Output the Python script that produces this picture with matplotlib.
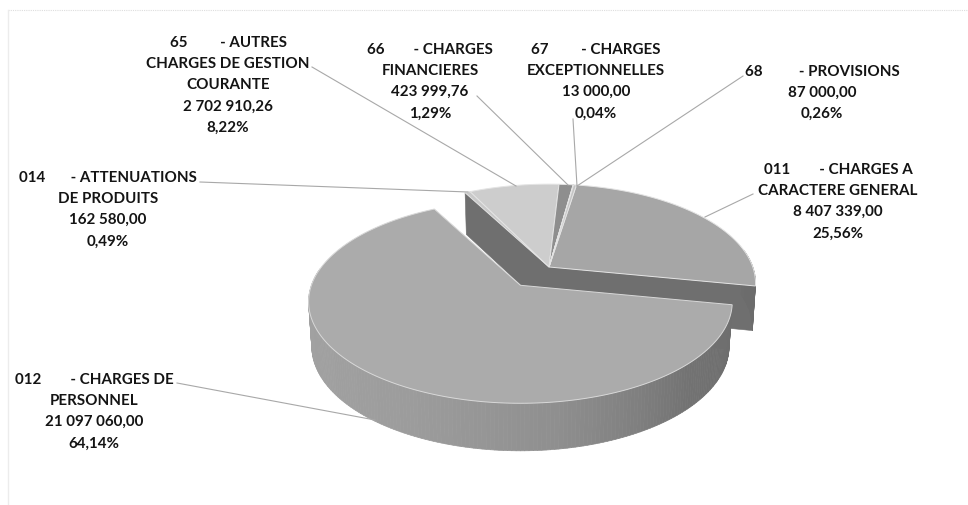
import numpy as np
import matplotlib
matplotlib.use("Agg")
import matplotlib.pyplot as plt
from matplotlib.patches import Polygon
from matplotlib.collections import PolyCollection

# --- data
codes = ["011", "012", "014", "65", "66", "67", "68"]
amounts = [8407339.00, 21097060.00, 162580.00, 2702910.26, 423999.76, 13000.00, 87000.00]
label_lines = [
    ["011        - CHARGES A", "CARACTERE GENERAL", "8 407 339,00", "25,56%"],
    ["012        - CHARGES DE", "PERSONNEL", "21 097 060,00", "64,14%"],
    ["014       - ATTENUATIONS", "DE PRODUITS", "162 580,00", "0,49%"],
    ["65         - AUTRES", "CHARGES DE GESTION", "COURANTE", "2 702 910,26", "8,22%"],
    ["66        - CHARGES", "FINANCIERES", "423 999,76", "1,29%"],
    ["67         - CHARGES", "EXCEPTIONNELLES", "13 000,00", "0,04%"],
    ["68          - PROVISIONS", "87 000,00", "0,26%"],
]

# --- styles and layout
top_colors = ["#a6a6a6", "#ababab", "#c9c9c9", "#cdcdcd", "#8e8e8e", "#b5b5b5", "#c4c4c4"]
explode = [0, 0.23, 0, 0, 0, 0, 0]
disk_scale = [0.975, 1, 0.975, 0.975, 0.975, 0.975, 0.975]
start_deg = 9.0
CX, CY, R, S, K = 549, 268, 209, 98.8, 0.1627
DEPTH, RB, SB = 44, 0.985, 1.03
label_pos = {"011": (838, 170), "012": (94, 380), "014": (108, 178), "65": (228, 43),
             "66": (430, 50), "67": (596, 50), "68": (822, 72)}
leaders = {"011": ((753, 195), (705, 218)), "012": ((177, 384), (375, 421)),
           "014": ((200, 183), (468, 193)), "65": ((312, 68), (516, 187)),
           "66": ((477, 97), (568, 186)), "67": ((573, 120), (577, 187)),
           "68": ((743, 77), (577, 187))}

plt.rcParams["font.family"] = ["Lato", "DejaVu Sans"]
fig = plt.figure(figsize=(9.68, 5.06), dpi=100, facecolor="white")
ax = fig.add_axes([0, 0, 1, 1])
ax.set_xlim(0, 968)
ax.set_ylim(506, 0)
ax.axis("off")


def project(theta, scale, cx, cy, bottom=False):
    """Disk point (clockwise degrees from far side) -> picture."""
    t = np.radians(theta)
    u, v = np.sin(t), np.cos(t)
    den = 1 + K * v
    r, s, d = (R * RB, S * SB, DEPTH) if bottom else (R, S, 0)
    return cx + scale * r * u / den, cy + d - scale * s * v / den


def arc(a0, a1, scale, cx, cy):
    th = np.linspace(a0, a1, max(2, int(abs(a1 - a0) * 2) + 2))
    x, y = project(th, scale, cx, cy)
    return np.column_stack([x, y])


def wall_grey(x):
    return np.interp(x, [310, 420, 560, 640, 690, 760],
                     [0.63, 0.61, 0.56, 0.50, 0.45, 0.42])


fracs = np.array(amounts) / np.sum(amounts)
edges = start_deg + 360 * np.concatenate([[0], np.cumsum(fracs)])
slices = []
for i in range(len(amounts)):
    a0, a1 = edges[i], edges[i + 1]
    mid = np.radians((a0 + a1) / 2)
    cx = CX + explode[i] * R * np.sin(mid)
    cy = CY - explode[i] * S * np.cos(mid)
    slices.append((i, a0, a1, disk_scale[i], cx, cy))


def cut_face(theta, scale, cx, cy, z):
    p0 = project(theta, scale, cx, cy)
    p1 = project(theta, scale, cx, cy, True)
    poly = [(cx, cy), p0, p1, (cx, cy + DEPTH)]
    ax.add_patch(Polygon(poly, closed=True, fc="#6f6f6f", ec="#6f6f6f", lw=0.4, zorder=z))


def outer_wall(a0, a1, scale, cx, cy, z):
    th = np.linspace(a0, a1, max(2, int(a1 - a0) + 2))
    top = np.column_stack(project(th, scale, cx, cy))
    bot = np.column_stack(project(th, scale, cx, cy, True))
    quads = [[top[j], top[j + 1], bot[j + 1], bot[j]] for j in range(len(th) - 1)]
    cols = [str(float(wall_grey(top[j, 0]))) for j in range(len(th) - 1)]
    ax.add_collection(PolyCollection(quads, facecolors=cols, edgecolors=cols, linewidths=0.5, zorder=z))


# far group: walls first, then tops; the exploded slice is drawn last
for i, a0, a1, sc, cx, cy in slices:
    if explode[i] == 0:
        cut_face(a0, sc, cx, cy, 1)
        cut_face(a1, sc, cx, cy, 1)
        if a0 < 180:
            outer_wall(max(a0, 80), min(a1, 180), sc, cx, cy, 2)
for i, a0, a1, sc, cx, cy in slices:
    if explode[i] == 0:
        pts = np.vstack([[(cx, cy)], arc(a0, a1, sc, cx, cy)])
        ax.add_patch(Polygon(pts, closed=True, fc=top_colors[i], ec="#e4e4e4", lw=0.7, zorder=3))
for i, a0, a1, sc, cx, cy in slices:
    if explode[i] != 0:
        cut_face(a0, sc, cx, cy, 4)
        outer_wall(a0, min(a1, 280), sc, cx, cy, 4)
        pts = np.vstack([[(cx, cy)], arc(a0, a1, sc, cx, cy)])
        ax.add_patch(Polygon(pts, closed=True, fc=top_colors[i], ec="#d8d8d8", lw=0.7, zorder=5))

# leader lines and labels
for code, lines in zip(codes, label_lines):
    (x0, y0), (x1, y1) = leaders[code]
    ax.plot([x0, x1], [y0, y1], color="#a8a8a8", lw=0.8, zorder=6)
    x, y = label_pos[code]
    for n, line in enumerate(lines):
        ax.text(x, y + n * 21.1, line, ha="center", va="center", fontsize=10.9,
                fontweight="bold", color="#141414", zorder=7)

# faint scan frame
ax.plot([8, 968], [11, 11], color="#dddddd", lw=0.8, ls=(0, (1, 1)))
ax.plot([8, 8], [11, 506], color="#ececec", lw=1.0)

fig.savefig("out.png", dpi=100, facecolor="white")
